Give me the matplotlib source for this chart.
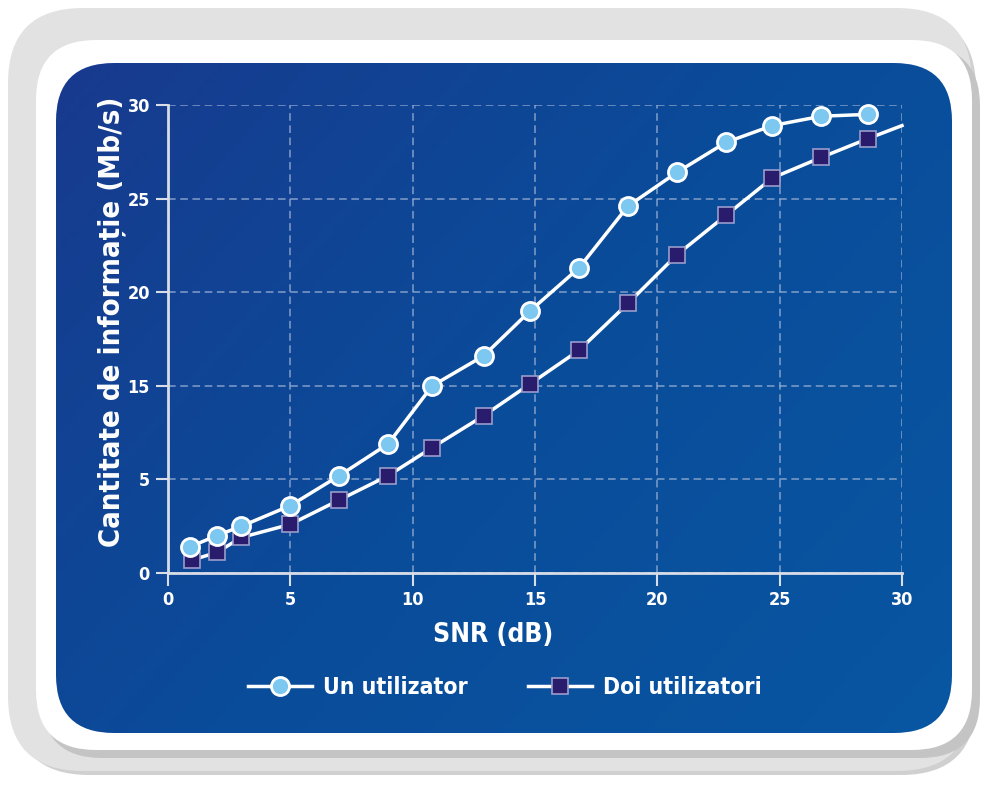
import matplotlib.pyplot as plt
import numpy as np
from matplotlib.colors import LinearSegmentedColormap
from matplotlib.patches import FancyBboxPatch

plt.rcParams["font.family"] = ["DejaVu Sans"]
plt.rcParams["font.stretch"] = "condensed"
plt.rcParams["font.weight"] = "bold"

# SNR values (dB)
snr_one = [0.9, 2.0, 3.0, 5.0, 7.0, 9.0, 10.8, 12.9, 14.8, 16.8, 18.8, 20.8, 22.8, 24.7, 26.7, 28.6]
snr_two = [1.0, 2.0, 3.0, 5.0, 7.0, 9.0, 10.8, 12.9, 14.8, 16.8, 18.8, 20.8, 22.8, 24.7, 26.7, 28.6, 30.0]
# values in axis units (the original axis skips the "10" label)
info_one = [1.4, 2.0, 2.5, 3.6, 5.2, 6.9, 10.0, 11.6, 14.0, 16.3, 19.6, 21.4, 23.0, 23.9, 24.4, 24.5]
info_two = [0.7, 1.1, 1.9, 2.6, 3.9, 5.2, 6.7, 8.4, 10.1, 11.9, 14.4, 17.0, 19.1, 21.1, 22.2, 23.2, 23.9]

x_ticks = [0, 5, 10, 15, 20, 25, 30]
y_ticks = [0, 5, 10, 15, 20, 25]
y_tick_labels = ["0", "5", "15", "20", "25", "30"]

W, H = 988, 785
fig = plt.figure(figsize=(W / 100, H / 100), dpi=100)
fig.patch.set_facecolor("white")

bg = fig.add_axes([0, 0, 1, 1])
bg.set_xlim(0, W)
bg.set_ylim(H, 0)
bg.axis("off")

# outer grey frame with soft shadow
bg.add_patch(FancyBboxPatch((14, 14), W - 26, H - 24, boxstyle="round,pad=0,rounding_size=75",
                            facecolor="#d0d0d0", edgecolor="none"))
bg.add_patch(FancyBboxPatch((8, 8), W - 24, H - 22, boxstyle="round,pad=0,rounding_size=75",
                            facecolor="#e2e2e2", edgecolor="none"))
# white inner card with shadow
bg.add_patch(FancyBboxPatch((42, 46), 938, 712, boxstyle="round,pad=0,rounding_size=60",
                            facecolor="#c4c4c4", edgecolor="none"))
bg.add_patch(FancyBboxPatch((36, 40), 936, 710, boxstyle="round,pad=0,rounding_size=60",
                            facecolor="white", edgecolor="none"))
# blue panel with gradient
panel = FancyBboxPatch((56, 63), 896, 670, boxstyle="round,pad=0,rounding_size=58",
                       facecolor="none", edgecolor="none")
bg.add_patch(panel)
gx, gy = np.meshgrid(np.linspace(0, 1, 200), np.linspace(0, 1, 200))
grad = gx * 0.6 + gy * 0.4
cmap = LinearSegmentedColormap.from_list("panel", ["#183a8e", "#0a4c9a", "#0856a2"])
img = bg.imshow(grad, extent=(56, 952, 733, 63), cmap=cmap, aspect="auto", zorder=1)
img.set_clip_path(panel)

ax = fig.add_axes([168 / W, 1 - 573 / H, 734 / W, 468 / H])
ax.patch.set_alpha(0)
ax.set_xlim(0, 30)
ax.set_ylim(0, 25)
ax.set_xticks(x_ticks)
ax.set_yticks(y_ticks)
ax.set_yticklabels(y_tick_labels)
ax.grid(True, color="#9fb3d6", linestyle=(0, (5, 3)), linewidth=1.1, alpha=0.8)
for side in ["top", "right"]:
    ax.spines[side].set_visible(False)
for side in ["left", "bottom"]:
    ax.spines[side].set_color("#d8dde8")
    ax.spines[side].set_linewidth(2)
ax.tick_params(colors="#d8dde8", length=9, width=1.5, labelcolor="white", labelsize=13, pad=4)

ax.plot(snr_one, info_one, color="white", lw=2.5, marker="o", markersize=13,
        markerfacecolor="#7cc8f0", markeredgecolor="white", markeredgewidth=2,
        label="Un utilizator", clip_on=False, zorder=4)
ax.plot(snr_two, info_two, color="white", lw=2.5, marker="s", markersize=11,
        markerfacecolor="#2a1c6c", markeredgecolor="#9a9ccc", markeredgewidth=1.2,
        markevery=list(range(len(snr_two) - 1)),
        label="Doi utilizatori", clip_on=False, zorder=3)

fig.text(493 / W, 1 - 635 / H, "SNR (dB)", color="white", fontsize=19, fontweight="bold",
         ha="center", va="center")
fig.text(112 / W, 1 - 322 / H, "Cantitate de informație (Mb/s)", color="white", fontsize=21,
         fontweight="bold", rotation=90, ha="center", va="center")

fig.legend(loc="center", bbox_to_anchor=(505 / W, 1 - 688 / H), ncol=2, frameon=False,
           labelcolor="white", handlelength=2.8, handletextpad=0.5, columnspacing=2.6,
           prop={"weight": "bold", "size": 16.5})

fig.savefig("out.png", dpi=100)
